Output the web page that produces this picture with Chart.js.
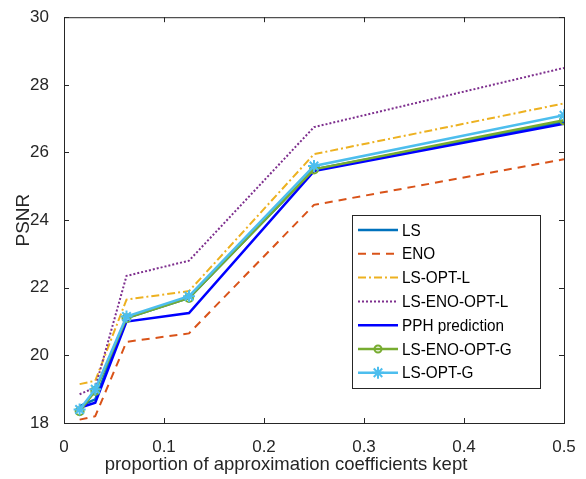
<!DOCTYPE html>
<html>
<head>
<meta charset="utf-8">
<script src="https://cdn.jsdelivr.net/npm/chart.js@4"></script>
<style>
  html, body { margin: 0; padding: 0; background: #fff; }
  #wrap { width: 586px; height: 479px; }
</style>
</head>
<body>
<div id="wrap"><canvas id="psnr"></canvas></div>
<script>
// proportion of approximation coefficients kept
const proportions = [1/64, 1/32, 1/16, 1/8, 1/4, 1/2];
const xTicks = [0, 0.1, 0.2, 0.3, 0.4, 0.5];
const yTicks = [18, 20, 22, 24, 26, 28, 30];
const xTitle = 'proportion of approximation coefficients kept';

// PSNR per method
const ls          = [18.50, 18.70, 21.10, 21.70, 25.50, 26.90];
const eno         = [18.10, 18.20, 20.40, 20.65, 24.45, 25.80];
const lsOptL      = [19.15, 19.25, 21.65, 21.90, 25.95, 27.45];
const lsEnoOptL   = [18.85, 19.05, 22.35, 22.80, 26.75, 28.50];
const pph         = [18.45, 18.60, 21.00, 21.25, 25.45, 26.85];
const lsEnoOptG   = [18.35, 18.95, 21.10, 21.70, 25.50, 26.95];
const lsOptG      = [18.40, 19.00, 21.15, 21.75, 25.60, 27.10];

const pts = arr => arr.map((v, i) => ({x: proportions[i], y: v}));

const series = [
  {label: 'LS', data: ls, color: '#0072BD', width: 2.5, dash: []},
  {label: 'ENO', data: eno, color: '#D95319', width: 2, dash: [8, 6]},
  {label: 'LS-OPT-L', data: lsOptL, color: '#EDB120', width: 2, dash: [8, 3, 2, 3]},
  {label: 'LS-ENO-OPT-L', data: lsEnoOptL, color: '#7E2F8E', width: 2, dash: [2, 2]},
  {label: 'PPH prediction', data: pph, color: '#0000FF', width: 2.5, dash: []},
  {label: 'LS-ENO-OPT-G', data: lsEnoOptG, color: '#77AC30', width: 2.5, dash: [], marker: 'circle'},
  {label: 'LS-OPT-G', data: lsOptG, color: '#4DBEEE', width: 2.5, dash: [], marker: 'star'}
];

const datasets = series.map((s, i) => ({
  label: s.label,
  data: pts(s.data),
  borderColor: s.color,
  backgroundColor: s.marker === 'circle' ? 'rgba(0,0,0,0)' : s.color,
  borderWidth: s.width,
  borderDash: s.dash,
  pointStyle: s.marker || 'circle',
  pointRadius: s.marker ? (s.marker === 'star' ? 6 : 4) : 0,
  pointBorderWidth: 2,
  pointBorderColor: s.color,
  tension: 0,
  order: series.length - i
}));

const font = "'Liberation Sans', Arial, sans-serif";

// MATLAB-style box with inward ticks, x label and legend inside the plot
const boxPlugin = {
  id: 'box',
  afterDraw(chart) {
    const {ctx, chartArea: a, scales} = chart;
    ctx.save();
    ctx.strokeStyle = '#262626';
    ctx.lineWidth = 1;
    ctx.strokeRect(a.left + 0.5, a.top + 0.5, a.right - a.left, a.bottom - a.top);
    ctx.beginPath();
    xTicks.forEach(t => {
      const x = Math.round(scales.x.getPixelForValue(t)) + 0.5;
      ctx.moveTo(x, a.bottom); ctx.lineTo(x, a.bottom - 5);
      ctx.moveTo(x, a.top); ctx.lineTo(x, a.top + 5);
    });
    yTicks.forEach(t => {
      const y = Math.round(scales.y.getPixelForValue(t)) + 0.5;
      ctx.moveTo(a.left, y); ctx.lineTo(a.left + 5, y);
      ctx.moveTo(a.right, y); ctx.lineTo(a.right - 5, y);
    });
    ctx.stroke();

    // x axis label (sits a bit left of the plot centre in the original)
    ctx.fillStyle = '#262626';
    ctx.font = '18.5px ' + font;
    ctx.textAlign = 'center';
    ctx.textBaseline = 'middle';
    ctx.fillText(xTitle, 286, 465);
    ctx.textAlign = 'left';

    // legend
    const lx = 352, ly = 215, lw = 188, lh = 173;
    ctx.fillStyle = '#fff';
    ctx.fillRect(lx, ly, lw, lh);
    ctx.strokeStyle = '#262626';
    ctx.strokeRect(lx + 0.5, ly + 0.5, lw, lh);
    series.forEach((s, i) => {
      const y = ly + 15 + i * 23.8;
      ctx.strokeStyle = s.color;
      ctx.lineWidth = s.width;
      ctx.setLineDash(s.dash);
      ctx.beginPath();
      ctx.moveTo(lx + 6, y); ctx.lineTo(lx + 46, y);
      ctx.stroke();
      ctx.setLineDash([]);
      const mx = lx + 26;
      if (s.marker === 'circle') {
        ctx.lineWidth = 2;
        ctx.beginPath();
        ctx.arc(mx, y, 3.5, 0, Math.PI * 2);
        ctx.stroke();
      } else if (s.marker === 'star') {
        ctx.lineWidth = 2;
        ctx.beginPath();
        for (let k = 0; k < 4; k++) {
          const ang = k * Math.PI / 4;
          ctx.moveTo(mx - 6 * Math.cos(ang), y - 6 * Math.sin(ang));
          ctx.lineTo(mx + 6 * Math.cos(ang), y + 6 * Math.sin(ang));
        }
        ctx.stroke();
      }
      // slightly condensed text like the original figure
      ctx.save();
      ctx.translate(lx + 50, y + 1);
      ctx.scale(0.9, 1);
      ctx.font = '17px ' + font;
      ctx.fillStyle = '#000';
      ctx.fillText(s.label, 0, 0);
      ctx.restore();
    });
    ctx.restore();
  }
};

new Chart(document.getElementById('psnr'), {
  type: 'line',
  data: {datasets},
  options: {
    responsive: true,
    maintainAspectRatio: false,
    animation: false,
    layout: {padding: {top: 13, right: 22, left: 12, bottom: 0}},
    plugins: {legend: {display: false}, tooltip: {enabled: false}},
    scales: {
      x: {
        type: 'linear',
        min: 0, max: 0.5,
        afterBuildTicks: s => { s.ticks = xTicks.map(v => ({value: v})); },
        afterFit: s => { s.height = 56; },
        grid: {display: false},
        border: {display: false},
        ticks: {color: '#262626', font: {family: font, size: 17}, padding: 6,
                callback: v => String(v)}
      },
      y: {
        min: 18, max: 30,
        afterBuildTicks: s => { s.ticks = yTicks.map(v => ({value: v})); },
        afterFit: s => { s.width = 52; },
        grid: {display: false},
        border: {display: false},
        ticks: {color: '#262626', font: {family: font, size: 17}, padding: 7},
        title: {display: true, text: 'PSNR', color: '#262626',
                font: {family: font, size: 19}, padding: {top: 0, bottom: 0}}
      }
    }
  },
  plugins: [boxPlugin]
});
</script>
</body>
</html>
